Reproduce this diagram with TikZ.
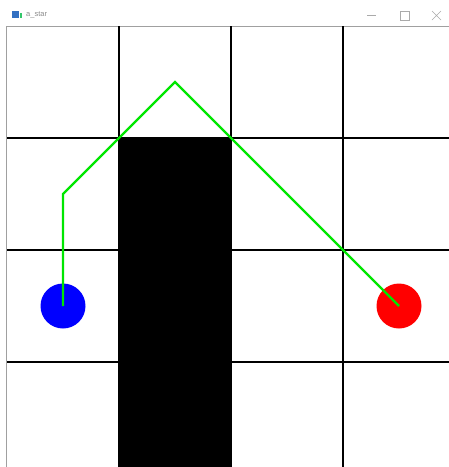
\documentclass[tikz,border=0pt]{standalone}
\usepackage{fontspec}
\setmainfont{Liberation Sans}
\definecolor{pathgreen}{RGB}{0,230,0}
\definecolor{framegray}{RGB}{160,160,160}
\definecolor{titlegray}{RGB}{140,140,140}
\definecolor{ctrlgray}{RGB}{170,170,170}
\begin{document}
\begin{tikzpicture}[x=1pt,y=-1pt,
  gridline/.style={black,line width=2pt},
  route/.style={pathgreen,line width=2.2pt,line join=miter},
  marker/.style={circle,minimum size=45pt,inner sep=0pt,draw=none},
  titletext/.style={font=\fontsize{7.5}{9}\selectfont,text=titlegray,anchor=west,inner sep=0pt},
  ctrl/.style={ctrlgray,line width=0.6pt}]
\useasboundingbox (0,0) rectangle (449,467);
\fill[white] (0,0) rectangle (449,467);
% title bar
\fill[teal!60!blue!80] (12,11) rectangle (19,18);
\fill[green!45!teal!80] (19.5,13) rectangle (22,18);
\node[titletext] (title) at (26,15) {a\_star};
\draw[ctrl] (367,15.5) -- (376,15.5);
\draw[ctrl] (400,11) rectangle (409,20);
\draw[ctrl] (432,11) -- (441,20) (441,11) -- (432,20);
% window frame
\draw[framegray,line width=1pt] (6.5,467) -- (6.5,26) -- (449,26);
% obstacle
\fill[black] (119,138) rectangle (231,467);
% grid
\foreach \x in {119,231,343} \draw[gridline] (\x,26) -- (\x,467);
\foreach \y in {138,250,362} \draw[gridline] (7,\y) -- (449,\y);
% markers
\node[marker,fill=blue] (start) at (63,306) {};
\node[marker,fill=red] (goal) at (399,306) {};
\coordinate (w1) at (63,194);
\coordinate (w2) at (175,82);
\draw[route] (start.center) -- (w1) -- (w2) -- (goal.center);
\end{tikzpicture}
\end{document}
